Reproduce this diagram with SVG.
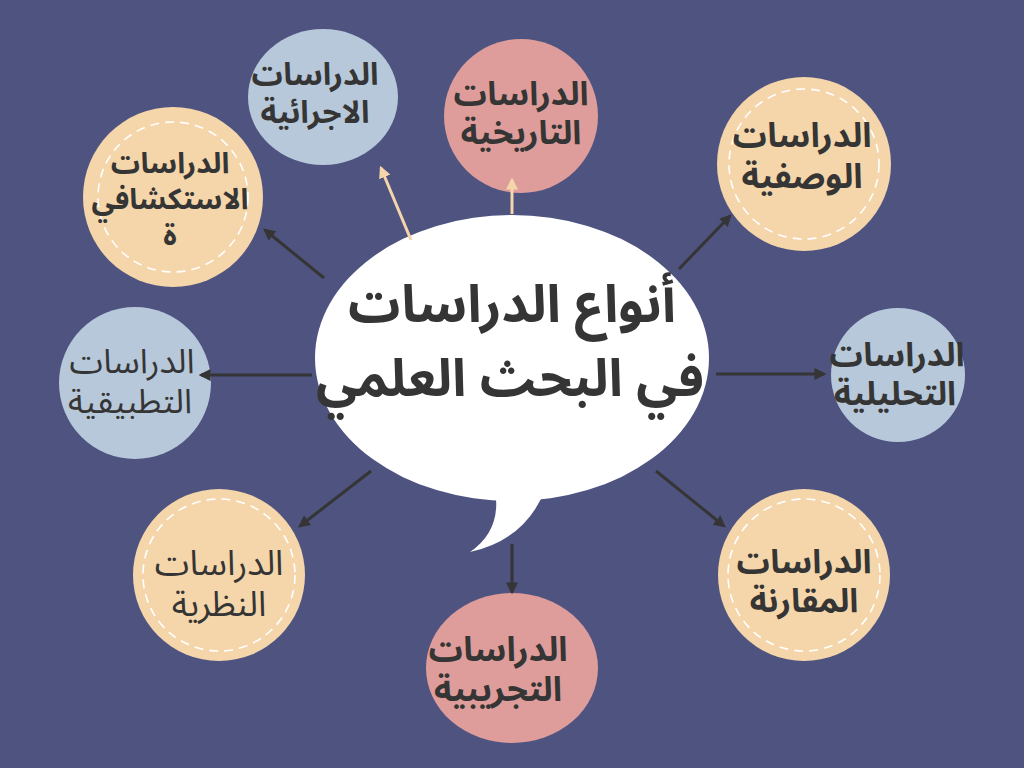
<svg xmlns="http://www.w3.org/2000/svg" width="1024" height="768" viewBox="0 0 1024 768">
<defs>
<style>
.t{font-family:"Noto Sans Arabic","DejaVu Sans","Noto Sans",sans-serif;fill:#353535;text-anchor:middle;font-weight:bold}
.r{font-weight:normal}
.peach{fill:#F5D5AA}
.blue{fill:#B7C8DA}
.pink{fill:#DE9D9A}
.dash{fill:none;stroke:#ffffff;stroke-width:1.6;stroke-dasharray:9 6}
.cd{stroke:#353535;stroke-width:3;fill:none;marker-end:url(#ad)}
.cl{stroke:#F5D5AA;stroke-width:3;fill:none;marker-end:url(#al)}
</style>
<marker id="ad" viewBox="0 0 10 10" refX="8" refY="5" markerWidth="4" markerHeight="4" orient="auto" markerUnits="strokeWidth">
<path d="M0,0 L10,5 L0,10 z" fill="#353535"/>
</marker>
<marker id="al" viewBox="0 0 10 10" refX="8" refY="5" markerWidth="4" markerHeight="4" orient="auto" markerUnits="strokeWidth">
<path d="M0,0 L10,5 L0,10 z" fill="#F5D5AA"/>
</marker>
</defs>
<rect width="1024" height="768" fill="#4F5380"/>
<g id="center">
<ellipse cx="512" cy="358" rx="197" ry="143" fill="#ffffff"/>
<path d="M495,490 Q502,530 470,552 Q525,540 545,490 Z" fill="#ffffff"/>
<text class="t" x="512" y="322" font-size="52">أنواع الدراسات</text>
<text class="t" x="510" y="396" font-size="52">في البحث العلمي</text>
</g>
<g id="n-exploratory">
<circle class="peach" cx="173" cy="197" r="90"/>
<circle class="dash" cx="173" cy="197" r="75"/>
<text class="t" x="170" y="173" font-size="29">الدراسات</text>
<text class="t" x="170" y="209" font-size="29">الاستكشافي</text>
<text class="t" x="170" y="245" font-size="29">ة</text>
</g>
<g id="n-procedural">
<ellipse class="blue" cx="323" cy="97" rx="75" ry="68"/>
<text class="t" x="315" y="85" font-size="31">الدراسات</text>
<text class="t" x="315" y="123" font-size="31">الاجرائية</text>
</g>
<g id="n-historical">
<circle class="pink" cx="521" cy="116" r="77"/>
<text class="t" x="521" y="105" font-size="33">الدراسات</text>
<text class="t" x="521" y="144" font-size="33">التاريخية</text>
</g>
<g id="n-descriptive">
<circle class="peach" cx="804" cy="164" r="87"/>
<circle class="dash" cx="804" cy="164" r="75"/>
<text class="t" x="802" y="147" font-size="34">الدراسات</text>
<text class="t" x="802" y="188" font-size="34">الوصفية</text>
</g>
<g id="n-analytical">
<circle class="blue" cx="898" cy="375" r="67"/>
<text class="t" x="897" y="366" font-size="33">الدراسات</text>
<text class="t" x="895" y="405" font-size="33">التحليلية</text>
</g>
<g id="n-applied">
<circle class="blue" cx="135" cy="383" r="76"/>
<text class="t r" x="132" y="373" font-size="34">الدراسات</text>
<text class="t r" x="130" y="413" font-size="34">التطبيقية</text>
</g>
<g id="n-theoretical">
<circle class="peach" cx="219" cy="575" r="86"/>
<circle class="dash" cx="219" cy="575" r="76"/>
<text class="t r" x="219" y="575" font-size="35">الدراسات</text>
<text class="t r" x="219" y="616" font-size="35">النظرية</text>
</g>
<g id="n-experimental">
<ellipse class="pink" cx="512" cy="668" rx="86" ry="75"/>
<text class="t" x="498" y="661" font-size="34">الدراسات</text>
<text class="t" x="498" y="701" font-size="34">التجريبية</text>
</g>
<g id="n-comparative">
<circle class="peach" cx="804" cy="575" r="86"/>
<circle class="dash" cx="804" cy="575" r="76"/>
<text class="t" x="804" y="573" font-size="33">الدراسات</text>
<text class="t" x="804" y="612" font-size="33">المقارنة</text>
</g>
<g id="connectors">
<line class="cd" x1="324" y1="278" x2="265" y2="230"/>
<line class="cl" x1="411" y1="240" x2="381" y2="168"/>
<line class="cl" x1="512" y1="214" x2="512" y2="180"/>
<line class="cd" x1="679" y1="269" x2="730" y2="216"/>
<line class="cd" x1="716" y1="374" x2="824" y2="374"/>
<line class="cd" x1="312" y1="375" x2="201" y2="375"/>
<line class="cd" x1="371" y1="471" x2="300" y2="526"/>
<line class="cd" x1="512" y1="544" x2="512" y2="592"/>
<line class="cd" x1="656" y1="471" x2="724" y2="526"/>
</g>
</svg>
